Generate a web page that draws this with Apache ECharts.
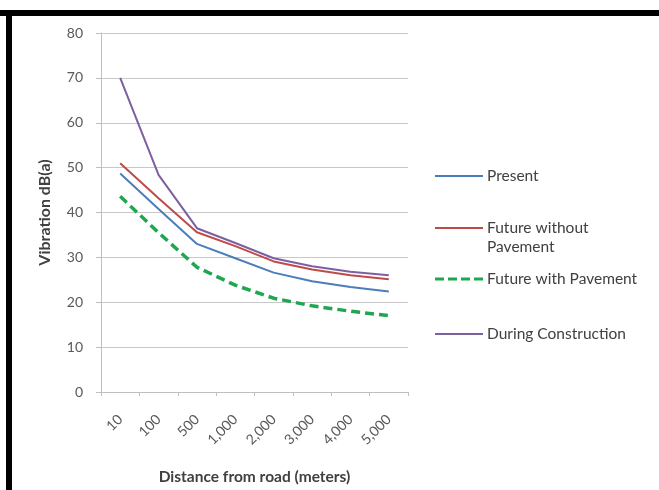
<!DOCTYPE html>
<html><head><meta charset="utf-8">
<script src="https://cdn.jsdelivr.net/npm/echarts@6/dist/echarts.min.js"></script>
<style>html,body{margin:0;padding:0;background:#fff}#c{width:659px;height:490px}</style>
</head><body><div id="c"></div>
<script>
const categories = ['10','100','500','1,000','2,000','3,000','4,000','5,000'];
const present = [48.7, 40.8, 33.0, 29.8, 26.6, 24.7, 23.4, 22.4];
const futureWithout = [51.0, 43.2, 35.6, 32.5, 29.1, 27.3, 26.0, 25.1];
const futureWith = [43.6, 35.5, 27.8, 23.8, 20.9, 19.2, 18.0, 17.0];
const during = [70.0, 48.4, 36.5, 33.2, 29.8, 28.0, 26.8, 26.0];
const yTicks = [0, 10, 20, 30, 40, 50, 60, 70, 80];
const seriesNames = ['Present', 'Future without Pavement', 'Future with Pavement', 'During Construction'];

const ff = 'Lato, "Open Sans", sans-serif';
const solidIcon = 'path://M0,4L48,4L48,6L0,6Z';
const dashIcon = 'path://M0,3.5L9,3.5L9,6.5L0,6.5ZM13,3.5L22,3.5L22,6.5L13,6.5ZM26,3.5L35,3.5L35,6.5L26,6.5ZM39,3.5L48,3.5L48,6.5L39,6.5Z';
const legendTops = [163, 215, 266, 321];
const icons = [solidIcon, solidIcon, dashIcon, solidIcon];

const chart = echarts.init(document.getElementById('c'));
chart.setOption({
  backgroundColor: '#ffffff',
  animation: false,
  graphic: [
    {type:'rect', shape:{x:0,y:10,width:659,height:6}, style:{fill:'#000'}},
    {type:'rect', shape:{x:6,y:10,width:6,height:480}, style:{fill:'#000'}},
    {type:'text', left: 487, top: 239, style:{text:'Pavement', font: '15.5px ' + ff, fill:'#404040'}}
  ],
  grid: {left: 101, right: 251, top: 33, bottom: 97},
  legend: seriesNames.map((n, i) => ({
    orient: 'vertical', left: 430, top: legendTops[i], itemWidth: 48, itemHeight: 10,
    textStyle: {fontFamily: ff, fontSize: 15.5, color: '#404040', padding: [0, 0, 0, -1]},
    formatter: name => name === 'Future without Pavement' ? 'Future without' : name,
    data: [{name: n, icon: icons[i]}]
  })),
  xAxis: {
    type: 'category', data: categories, boundaryGap: true,
    name: 'Distance from road (meters)', nameLocation: 'middle', nameGap: 77,
    nameTextStyle: {fontFamily: ff, fontSize: 15.5, fontWeight: 'bold', color: '#404040'},
    axisLine: {lineStyle: {color: '#BFBFBF', width: 1}},
    axisTick: {show: true, length: 4, lineStyle: {color: '#BFBFBF'}},
    axisLabel: {rotate: 45, fontFamily: ff, fontSize: 14, color: '#595959', margin: 25}
  },
  yAxis: {
    type: 'value', min: 0, max: 80, interval: 10,
    name: 'Vibration dB(a)', nameLocation: 'middle', nameGap: 48, nameRotate: 90,
    nameTextStyle: {fontFamily: ff, fontSize: 16, fontWeight: 'bold', color: '#404040'},
    axisLine: {show: true, lineStyle: {color: '#BFBFBF'}},
    axisTick: {show: true, length: 5, lineStyle: {color: '#BFBFBF'}},
    axisLabel: {fontFamily: ff, fontSize: 14, color: '#595959', margin: 18,
      formatter: v => yTicks.includes(v) ? String(v) : ''},
    splitLine: {lineStyle: {color: '#C8C8C8', width: 1}}
  },
  series: [
    {name: seriesNames[0], type: 'line', data: present, symbol: 'none', lineStyle: {color: '#4A7EBB', width: 2}, itemStyle: {color: '#4A7EBB'}},
    {name: seriesNames[1], type: 'line', data: futureWithout, symbol: 'none', lineStyle: {color: '#BE4B48', width: 2}, itemStyle: {color: '#BE4B48'}},
    {name: seriesNames[2], type: 'line', data: futureWith, symbol: 'none', lineStyle: {color: '#1FA650', width: 3.5, type: [9, 5]}, itemStyle: {color: '#1FA650'}},
    {name: seriesNames[3], type: 'line', data: during, symbol: 'none', lineStyle: {color: '#7D60A0', width: 2}, itemStyle: {color: '#7D60A0'}}
  ]
});
</script></body></html>
